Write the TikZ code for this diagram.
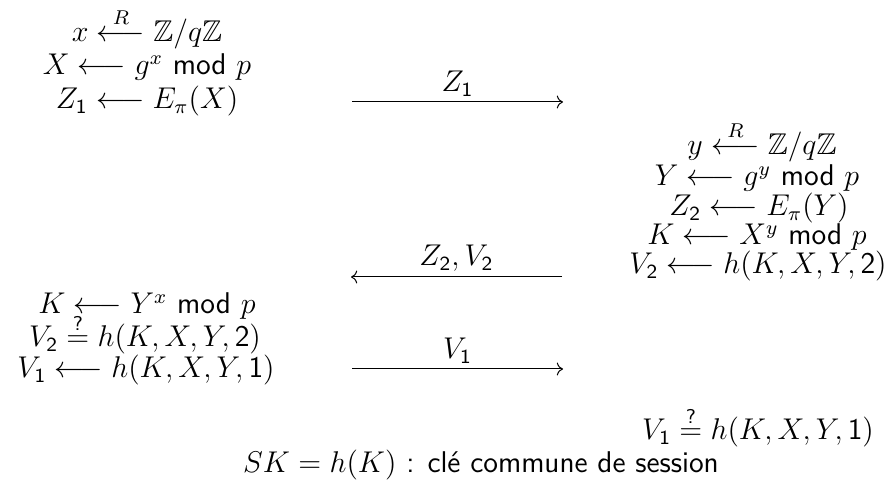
\documentclass[12pt,tikz,border=0pt]{standalone}
\usepackage{amsmath,amssymb}
\renewcommand{\familydefault}{\sfdefault}
\DeclareSymbolFont{sfdigits}{OT1}{cmss}{m}{n}
\DeclareMathSymbol{1}{\mathalpha}{sfdigits}{`1}
\DeclareMathSymbol{2}{\mathalpha}{sfdigits}{`2}
\usetikzlibrary{arrows.meta,positioning}
\tikzset{
  protorow/.style={
    anchor=base,
    inner sep=0pt
  },
  msgarrow/.style={
    -To,
    thin,
    draw=black
  },
  msglabel/.style={
    above=2pt,
    inner sep=0pt
  }
}

\begin{document}
\begin{tikzpicture}[x=0.4pt, y=-0.4pt]
\useasboundingbox (0,0) rectangle (892,484);

% left party, first step
\node[protorow] (xdraw) at (147,42) {$x \stackrel{R}{\longleftarrow} \mathbb{Z}/q\mathbb{Z}$};
\node[protorow] (xpow) at (147,75) {$X \longleftarrow g^x$ mod $p$};
\node[protorow] (zone) at (147,109) {$Z_1 \longleftarrow E_\pi(X)$};

% right party
\node[protorow] (ydraw) at (762,155) {$y \stackrel{R}{\longleftarrow} \mathbb{Z}/q\mathbb{Z}$};
\node[protorow] (ypow) at (757,186) {$Y \longleftarrow g^y$ mod $p$};
\node[protorow] (ztwo) at (759,216) {$Z_2 \longleftarrow E_\pi(Y)$};
\node[protorow] (kright) at (757,245) {$K \longleftarrow X^y$ mod $p$};
\node[protorow] (vtwo) at (758,274) {$V_2 \longleftarrow h(K,X,Y,2)$};

% left party, second step
\node[protorow] (kleft) at (147,314) {$K \longleftarrow Y^x$ mod $p$};
\node[protorow] (vtwocheck) at (145,347) {$V_2 \stackrel{\text{?}}{=} h(K,X,Y,2)$};
\node[protorow] (vone) at (146,378) {$V_1 \longleftarrow h(K,X,Y,1)$};

\node[protorow] (vonecheck) at (758,440) {$V_1 \stackrel{\text{?}}{=} h(K,X,Y,1)$};
\node[protorow] (session) at (481,473) {$SK = h(K)$ : clé commune de session};

% messages
\coordinate (msgonel) at (352,102);
\coordinate (msgoner) at (563,102);
\coordinate (msgtwol) at (351,277);
\coordinate (msgtwor) at (562,277);
\coordinate (msgthreel) at (352,369);
\coordinate (msgthreer) at (563,369);

\draw[msgarrow] (msgonel) -- node[msglabel] (lblone) {$Z_1$} (msgoner);
\draw[msgarrow] (msgtwor) -- node[msglabel] (lbltwo) {$Z_2, V_2$} (msgtwol);
\draw[msgarrow] (msgthreel) -- node[msglabel] (lblthree) {$V_1$} (msgthreer);
\end{tikzpicture}
\end{document}
